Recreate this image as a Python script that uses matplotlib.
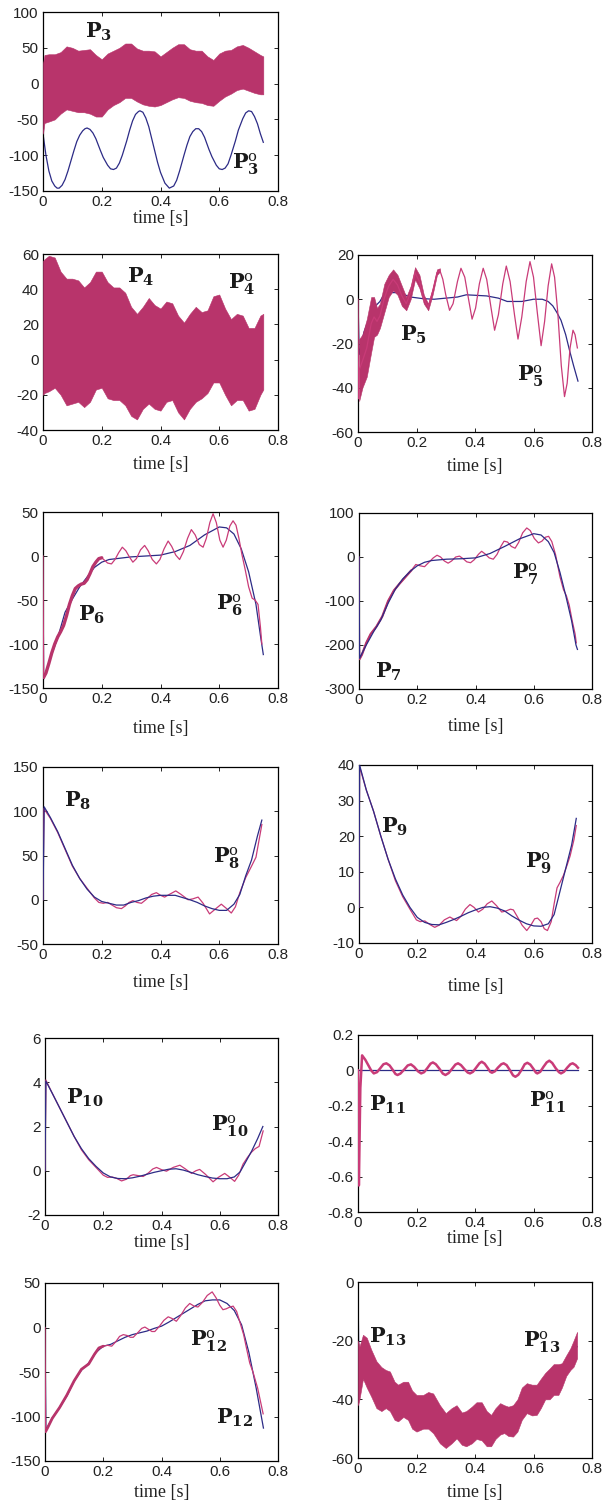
import matplotlib
matplotlib.use("Agg")
import matplotlib.pyplot as plt

plt.rcParams['axes.unicode_minus'] = False
plt.rcParams['mathtext.fontset'] = 'dejavuserif'
plt.rcParams['font.family'] = ['Liberation Sans', 'DejaVu Sans']

BAND = '#B8346B'      # measured power, high-frequency part drawn as a filled band
PINK = '#C93B78'      # measured power, thin trace
BLUE = '#2C2B86'      # reference power P°
TXT = '#1A1A1A'
FIG_W, FIG_H = 604, 1506

XTICKS = [0, 0.2, 0.4, 0.6, 0.8]
XTICK_LABELS = ['0', '0.2', '0.4', '0.6', '0.8']

# ---------------------------------------------------------------- P3 / P4 bands
band_t = [0, 0.005, 0.02, 0.04, 0.06, 0.08, 0.10, 0.12, 0.14, 0.16, 0.18, 0.20, 0.22,
          0.24, 0.26, 0.28, 0.30, 0.32, 0.34, 0.36, 0.38, 0.40, 0.42, 0.44, 0.46, 0.48,
          0.50, 0.52, 0.54, 0.56, 0.58, 0.60, 0.62, 0.64, 0.66, 0.68, 0.70, 0.72, 0.74, 0.75]
p3_hi = [28, 40, 41, 41, 44, 52, 50, 46, 47, 48, 40, 34, 42, 46, 50, 56, 56, 49, 46, 46,
         45, 38, 44, 50, 55, 55, 48, 46, 46, 38, 33, 42, 46, 47, 52, 54, 50, 45, 40, 38]
p3_lo = [-70, -55, -53, -50, -42, -36, -38, -40, -40, -42, -46, -46, -36, -30, -26, -20,
         -20, -25, -29, -31, -32, -30, -26, -22, -19, -20, -24, -26, -27, -30, -31, -24,
         -18, -14, -9, -7, -10, -13, -15, -15]
p3_ref_t = [0, 0.01, 0.02, 0.03, 0.04, 0.048, 0.055, 0.065, 0.075, 0.085, 0.095, 0.105,
            0.115, 0.125, 0.135, 0.143, 0.15, 0.16, 0.17, 0.18, 0.195, 0.205, 0.22, 0.23,
            0.24, 0.25, 0.26, 0.27, 0.285, 0.295, 0.305, 0.315, 0.325, 0.33, 0.34, 0.35,
            0.36, 0.375, 0.39, 0.40, 0.415, 0.43, 0.445, 0.455, 0.465, 0.48, 0.49, 0.50,
            0.51, 0.52, 0.53, 0.54, 0.55, 0.565, 0.575, 0.59, 0.60, 0.61, 0.62, 0.63, 0.64,
            0.655, 0.665, 0.68, 0.69, 0.70, 0.71, 0.72, 0.73, 0.74, 0.75]
p3_ref_y = [-70, -100, -122, -136, -143, -146, -146, -142, -134, -122, -108, -94, -81,
            -72, -66, -63, -62, -64, -69, -77, -93, -103, -114, -119, -120, -118, -111,
            -100, -80, -65, -52, -43, -39, -38, -40, -48, -60, -85, -110, -124, -139, -146,
            -143, -135, -122, -100, -86, -74, -67, -63, -63, -67, -75, -92, -102, -114,
            -119, -120, -118, -112, -100, -80, -65, -49, -41, -38, -39, -46, -56, -70, -82]

p4_hi = [56, 57, 59, 58, 50, 46, 46, 45, 41, 44, 50, 50, 44, 41, 41, 38, 30, 26, 30, 35,
         31, 29, 33, 32, 25, 21, 26, 30, 27, 28, 36, 37, 29, 23, 26, 25, 18, 18, 25, 26]
p4_lo = [-20, -19, -18, -16, -20, -26, -25, -24, -27, -24, -17, -16, -22, -23, -23, -26,
         -32, -34, -28, -25, -28, -29, -24, -23, -30, -34, -28, -24, -22, -19, -13, -13,
         -20, -26, -23, -23, -29, -28, -20, -17]

# ---------------------------------------------------------------- P5
p5_band_t = [0.004, 0.015, 0.03, 0.045, 0.055, 0.065, 0.075, 0.09, 0.105, 0.12, 0.135,
             0.15, 0.165, 0.18, 0.195, 0.21, 0.225, 0.24, 0.255, 0.27, 0.28]
p5_hi = [-18, -16, -9, 1, 1, -4, -2, 7, 11, 13.5, 11, 6, 1, 6, 14.5, 11, 2, -2, 5, 13.5, 14]
p5_lo = [-46, -40, -35, -24, -17, -16, -13, -6, 1, 4, 2, -3, -5, 0, 9, 5, -2, -5, 2, 11, 12.5]
p5_pink_t = [0, 0.002, 0.004, 0.015, 0.03, 0.045, 0.055, 0.065, 0.075, 0.09, 0.105, 0.12,
             0.135, 0.15, 0.165, 0.18, 0.195, 0.21, 0.225, 0.24, 0.255, 0.27, 0.28, 0.29,
             0.30, 0.313, 0.325, 0.34, 0.352, 0.365, 0.378, 0.39, 0.402, 0.415, 0.428, 0.44,
             0.455, 0.467, 0.48, 0.495, 0.507, 0.52, 0.535, 0.547, 0.56, 0.575, 0.588, 0.60,
             0.613, 0.626, 0.638, 0.65, 0.662, 0.672, 0.683, 0.695, 0.706, 0.715, 0.725,
             0.735, 0.742, 0.75]
p5_pink_y = [0, -45, -32, -28, -22, -11, -8, -10, -7.5, 0.5, 6, 9, 6.5, 1.5, -2, 3, 12, 8,
             0, -3.5, 3.5, 12, 13, 9, 2, -5, -2, 8, 14, 10, 0, -9, -4, 7, 14, 9, -4, -14,
             -7, 7, 15, 8, -7, -18, -8, 8, 17, 10, -6, -21, -10, 6, 16, 10, -6, -30, -44,
             -38, -22, -14, -16, -22]
p5_ref_t = [0, 0.004, 0.02, 0.04, 0.06, 0.075, 0.09, 0.11, 0.14, 0.18, 0.22, 0.26, 0.30,
            0.34, 0.37, 0.40, 0.44, 0.48, 0.51, 0.56, 0.60, 0.63, 0.65, 0.666, 0.68, 0.694,
            0.71, 0.723, 0.737, 0.752]
p5_ref_y = [0, -25, -15, -8, -3, -1, 2.5, 3, 3, 1, 0.3, 0, 0.5, 1, 2, 1.8, 1.5, 0.5, -1,
            -1, 0, 0, -1, -3, -6, -9.5, -16, -23, -30, -37]

# ---------------------------------------------------------------- P6
p6_pink_t = [0, 0.002, 0.01, 0.02, 0.03, 0.04, 0.05, 0.06, 0.07, 0.08, 0.09, 0.10, 0.11,
             0.12, 0.13, 0.14, 0.15, 0.16, 0.17, 0.18, 0.19, 0.20, 0.21, 0.22, 0.233, 0.245,
             0.258, 0.27, 0.282, 0.294, 0.306, 0.318, 0.332, 0.346, 0.358, 0.372, 0.386,
             0.398, 0.412, 0.426, 0.438, 0.452, 0.465, 0.478, 0.492, 0.505, 0.518, 0.532,
             0.545, 0.556, 0.568, 0.579, 0.59, 0.602, 0.613, 0.624, 0.636, 0.647, 0.657,
             0.667, 0.677, 0.688, 0.70, 0.712, 0.722, 0.732, 0.74, 0.745]
p6_pink_y = [0, -138, -133, -122, -110, -100, -92, -86, -79, -68, -55, -45, -37, -34, -32,
             -31, -27, -20, -12, -7, -3, -2, -5, -8, -9, -4, 4, 10, 6, -1, -7, -3, 7, 12, 6,
             -4, -9, -4, 8, 17, 11, 1, -4, 5, 20, 30, 24, 13, 10, 20, 38, 48, 38, 18, 10,
             18, 34, 40, 35, 20, 2, -15, -35, -48, -50, -55, -80, -100]
p6_ref_t = [0, 0.002, 0.025, 0.05, 0.075, 0.10, 0.125, 0.15, 0.175, 0.20, 0.225, 0.25,
            0.30, 0.35, 0.40, 0.45, 0.50, 0.55, 0.60, 0.625, 0.65, 0.675, 0.70, 0.725,
            0.74, 0.75]
p6_ref_y = [0, -140, -116, -93, -64, -49, -35, -24, -13, -7, -4, -3, -1, 0, 1, 5, 12, 24,
            33, 32, 25, 8, -18, -55, -90, -112]

# ---------------------------------------------------------------- P7
p7_pink_t = [0, 0.002, 0.01, 0.025, 0.04, 0.06, 0.08, 0.10, 0.12, 0.14, 0.16, 0.18, 0.195,
             0.21, 0.225, 0.24, 0.255, 0.268, 0.28, 0.293, 0.306, 0.318, 0.332, 0.345,
             0.358, 0.37, 0.383, 0.396, 0.41, 0.421, 0.433, 0.447, 0.461, 0.474, 0.487,
             0.498, 0.51, 0.523, 0.536, 0.548, 0.562, 0.576, 0.588, 0.602, 0.616, 0.628,
             0.64, 0.651, 0.662, 0.675, 0.69, 0.702, 0.712, 0.722, 0.732, 0.742, 0.746]
p7_pink_y = [0, -232, -222, -195, -175, -158, -135, -100, -76, -60, -45, -30, -17, -20,
             -22, -12, -2, 4, 0, -9, -14, -9, 0, 2, -4, -11, -13, -6, 6, 13, 7, -2, -5, 6,
             24, 36, 34, 24, 20, 33, 55, 66, 60, 42, 32, 36, 45, 47, 35, 5, -45, -74, -88,
             -110, -145, -175, -195]
p7_ref_t = [0, 0.002, 0.025, 0.05, 0.075, 0.10, 0.125, 0.15, 0.175, 0.20, 0.225, 0.25,
            0.30, 0.35, 0.40, 0.45, 0.50, 0.55, 0.60, 0.625, 0.65, 0.67, 0.69, 0.71, 0.73,
            0.745, 0.75]
p7_ref_y = [0, -230, -200, -170, -143, -105, -73, -50, -33, -20, -12, -8, -5, -4, -2, 8,
            24, 41, 53, 50, 35, 10, -35, -88, -145, -200, -210]

# ---------------------------------------------------------------- P8
p8_pink_t = [0, 0.003, 0.025, 0.05, 0.075, 0.10, 0.125, 0.15, 0.175, 0.19, 0.205, 0.22,
             0.235, 0.25, 0.267, 0.28, 0.293, 0.306, 0.32, 0.335, 0.35, 0.37, 0.386, 0.40,
             0.414, 0.43, 0.452, 0.47, 0.494, 0.51, 0.528, 0.545, 0.567, 0.585, 0.607,
             0.625, 0.641, 0.655, 0.67, 0.69, 0.71, 0.725, 0.745]
p8_pink_y = [0, 103, 92, 76, 57, 38, 24, 13, 2, -3, -4, -3, -6, -9, -10, -7, -3, -1, -3,
             -4, 0, 6, 8, 5, 3, 6, 10, 6, 0, 1, 3, -4, -16, -11, -5, -10, -15, -8, 8, 25,
             38, 48, 85]
p8_ref_t = [0, 0.004, 0.025, 0.05, 0.075, 0.10, 0.125, 0.15, 0.175, 0.20, 0.225, 0.25,
            0.275, 0.30, 0.325, 0.35, 0.375, 0.40, 0.45, 0.50, 0.525, 0.55, 0.575, 0.60,
            0.625, 0.65, 0.67, 0.69, 0.71, 0.73, 0.745]
p8_ref_y = [0, 105, 93, 77, 58, 39, 24, 12, 3, -2, -4, -6, -6, -3, -1, 2, 4, 5, 5, 0, -3,
            -7, -10, -12, -12, -5, 6, 27, 45, 72, 90]

# ---------------------------------------------------------------- P9
p9_pink_t = [0, 0.002, 0.025, 0.05, 0.075, 0.10, 0.125, 0.15, 0.175, 0.197, 0.21, 0.226,
             0.243, 0.26, 0.275, 0.293, 0.312, 0.323, 0.335, 0.35, 0.365, 0.381, 0.395,
             0.41, 0.425, 0.44, 0.456, 0.472, 0.49, 0.505, 0.52, 0.53, 0.545, 0.56, 0.576,
             0.59, 0.603, 0.613, 0.625, 0.636, 0.647, 0.66, 0.67, 0.68, 0.69, 0.702, 0.715,
             0.725, 0.738, 0.746]
p9_pink_y = [0, 39.5, 33, 27, 20, 13.5, 7.5, 3, -0.5, -3.5, -4, -3.8, -4.8, -5.6, -5,
             -3.5, -2.7, -3.2, -3.7, -2.5, -0.5, 0.8, 0, -1.3, -0.5, 1, 1.8, 0.5, -1.3, -1,
             -0.5, -0.7, -2.8, -5, -6.5, -5, -3.2, -3, -4, -6, -6.5, -4, 1, 5.5, 7, 9, 12,
             14.5, 19, 23]
p9_ref_t = [0, 0.002, 0.025, 0.05, 0.075, 0.10, 0.125, 0.15, 0.175, 0.20, 0.225, 0.25,
            0.275, 0.30, 0.325, 0.35, 0.375, 0.40, 0.425, 0.45, 0.475, 0.50, 0.525, 0.55,
            0.575, 0.60, 0.625, 0.65, 0.67, 0.69, 0.71, 0.73, 0.746]
p9_ref_y = [0, 40, 33, 27, 20, 13.5, 8, 3.5, 0, -2.8, -4.2, -4.8, -4.9, -4.2, -3.4, -2.5,
            -1.5, -0.7, 0, 0.2, -0.2, -1, -2.4, -3.6, -4.6, -5.2, -5.3, -4.6, -2, 4.5, 11,
            17.5, 25]

# ---------------------------------------------------------------- P10
p10_pink_t = [0, 0.003, 0.025, 0.05, 0.075, 0.10, 0.125, 0.15, 0.175, 0.20, 0.215, 0.23,
              0.247, 0.263, 0.28, 0.293, 0.303, 0.32, 0.337, 0.355, 0.37, 0.383, 0.40,
              0.417, 0.44, 0.463, 0.48, 0.503, 0.518, 0.531, 0.55, 0.577, 0.595, 0.617,
              0.635, 0.651, 0.665, 0.68, 0.695, 0.709, 0.722, 0.735, 0.749]
p10_pink_y = [0, 4.1, 3.5, 2.85, 2.2, 1.55, 0.95, 0.5, 0.15, -0.2, -0.3, -0.28, -0.35,
              -0.46, -0.38, -0.22, -0.18, -0.22, -0.26, -0.1, 0.08, 0.15, 0.05, -0.02, 0.15,
              0.25, 0.1, -0.12, 0, 0.06, -0.15, -0.5, -0.3, -0.12, -0.3, -0.48, -0.2, 0.3,
              0.6, 0.84, 1.0, 1.1, 1.8]
p10_ref_t = [0, 0.003, 0.025, 0.05, 0.075, 0.10, 0.125, 0.15, 0.175, 0.20, 0.225, 0.25,
             0.275, 0.30, 0.325, 0.35, 0.375, 0.40, 0.425, 0.45, 0.475, 0.50, 0.525, 0.55,
             0.575, 0.60, 0.625, 0.65, 0.67, 0.69, 0.71, 0.73, 0.748]
p10_ref_y = [0, 4.05, 3.5, 2.85, 2.2, 1.55, 1.0, 0.55, 0.2, -0.1, -0.28, -0.35, -0.36,
             -0.32, -0.25, -0.16, -0.07, 0, 0.07, 0.09, 0.03, -0.07, -0.18, -0.26, -0.33,
             -0.36, -0.36, -0.28, -0.05, 0.42, 0.9, 1.45, 2.0]

# ---------------------------------------------------------------- P11
p11_pink_t = [0, 0.003, 0.008, 0.014, 0.025, 0.035, 0.045, 0.054, 0.065, 0.076, 0.087,
              0.097, 0.108, 0.118, 0.128, 0.135, 0.145, 0.158, 0.17, 0.181, 0.192, 0.205,
              0.216, 0.226, 0.238, 0.248, 0.256, 0.266, 0.278, 0.29, 0.299, 0.31, 0.322,
              0.333, 0.342, 0.352, 0.365, 0.375, 0.383, 0.393, 0.405, 0.415, 0.423, 0.433,
              0.445, 0.452, 0.458, 0.468, 0.478, 0.49, 0.498, 0.508, 0.52, 0.53, 0.538,
              0.548, 0.56, 0.57, 0.579, 0.589, 0.60, 0.608, 0.613, 0.623, 0.634, 0.645,
              0.654, 0.664, 0.676, 0.687, 0.694, 0.704, 0.715, 0.726, 0.734, 0.744, 0.752]
p11_pink_y = [0, -0.65, -0.1, 0.085, 0.06, 0.03, 0.0, -0.017, -0.01, 0.012, 0.035, 0.04,
              0.028, 0.005, -0.02, -0.026, -0.018, 0.005, 0.028, 0.034, 0.02, -0.005,
              -0.017, -0.01, 0.015, 0.038, 0.045, 0.035, 0.01, -0.018, -0.026, -0.015,
              0.01, 0.033, 0.04, 0.03, 0.005, -0.012, -0.017, -0.008, 0.018, 0.04, 0.049,
              0.038, 0.01, -0.008, -0.013, -0.005, 0.015, 0.035, 0.04, 0.03, 0.0, -0.028,
              -0.036, -0.025, 0.005, 0.035, 0.043, 0.033, 0.008, -0.012, -0.017, -0.008,
              0.02, 0.045, 0.055, 0.042, 0.012, -0.01, -0.017, -0.008, 0.015, 0.035, 0.04,
              0.03, 0.015]
p11_ref_t = [0, 0.752]
p11_ref_y = [0, 0]

# ---------------------------------------------------------------- P12
p12_pink_t = [0, 0.002, 0.01, 0.025, 0.05, 0.075, 0.10, 0.125, 0.15, 0.17, 0.185, 0.20,
              0.215, 0.229, 0.243, 0.256, 0.269, 0.282, 0.293, 0.303, 0.318, 0.332, 0.343,
              0.355, 0.367, 0.377, 0.392, 0.408, 0.423, 0.437, 0.451, 0.465, 0.482, 0.497,
              0.512, 0.525, 0.54, 0.557, 0.574, 0.588, 0.60, 0.611, 0.622, 0.635, 0.646,
              0.658, 0.67, 0.682, 0.691, 0.703, 0.714, 0.73, 0.749]
p12_pink_y = [0, -117, -112, -102, -90, -76, -60, -47, -41, -30, -23, -21, -20, -21, -16,
              -10, -8, -9, -11, -11, -6, -1, 0.5, -2, -4.5, -4.5, 1, 8, 12, 10, 7, 13, 22,
              27, 24, 23, 28, 36, 40, 33, 25, 20, 21, 23, 24, 18, 5, -8, -22, -40, -50,
              -68, -97]
p12_ref_t = [0, 0.003, 0.025, 0.05, 0.075, 0.10, 0.125, 0.15, 0.175, 0.20, 0.225, 0.25,
             0.275, 0.30, 0.325, 0.35, 0.375, 0.40, 0.425, 0.45, 0.475, 0.50, 0.525, 0.55,
             0.575, 0.60, 0.625, 0.65, 0.675, 0.70, 0.725, 0.75]
p12_ref_y = [0, -115, -102, -90, -77, -60, -48, -40, -28, -21, -19, -15, -11, -8, -6, -4,
             -1, 1.5, 6, 11, 16, 21, 26, 30, 31, 31, 27, 19, 3, -28, -68, -113]

# ---------------------------------------------------------------- P13
p13_t = [0, 0.005, 0.017, 0.03, 0.045, 0.063, 0.08, 0.095, 0.109, 0.125, 0.137, 0.155,
         0.171, 0.185, 0.2, 0.223, 0.24, 0.257, 0.28, 0.3, 0.32, 0.337, 0.355, 0.37, 0.389,
         0.405, 0.423, 0.44, 0.455, 0.47, 0.486, 0.5, 0.514, 0.53, 0.545, 0.56, 0.577,
         0.595, 0.611, 0.625, 0.64, 0.655, 0.669, 0.685, 0.697, 0.712, 0.726, 0.737, 0.749]
p13_hi = [-20, -22, -18, -19, -23, -27, -29, -30, -30.5, -34, -35, -34, -34, -37, -38.5,
          -38.5, -37.5, -38, -42, -44.7, -43, -42, -44.5, -44, -42.5, -41, -41, -44, -45.3,
          -43, -41.3, -42, -42.5, -42, -40, -36, -34.5, -35, -35, -33, -31, -29.5, -28,
          -28, -27.7, -25, -22.6, -20, -17]
p13_lo = [-42, -40, -33, -36, -39, -43, -44, -43, -44, -47, -47.5, -46, -47, -50, -51,
          -50, -50, -51.5, -55, -56.6, -55, -53.3, -55.5, -56, -55, -53.5, -54, -56, -56,
          -53.5, -52, -51.5, -52.5, -52.7, -51, -47, -44.7, -45.5, -45.3, -43, -40, -40,
          -38.5, -38.5, -36, -32, -30, -28.9, -26]
p13_ref_t = [0, 0.003, 0.05, 0.15, 0.3, 0.45, 0.6, 0.7, 0.749]
p13_ref_y = [0, -30, -35, -42, -50, -49, -40, -32, -22]


def panel(fig, box, ylim, yticks, xlab_off):
    """box = (left, top, width, height) in pixels; xlab_off = label centre below axes."""
    l, t, w, h = box
    ax = fig.add_axes([l / FIG_W, 1 - (t + h) / FIG_H, w / FIG_W, h / FIG_H])
    ax.set_xlim(0, 0.8)
    ax.set_ylim(*ylim)
    ax.set_xticks(XTICKS, labels=XTICK_LABELS)
    ax.set_yticks(yticks, labels=[f'{v:g}' for v in yticks])
    ax.tick_params(direction='in', length=3, width=0.6, top=True, right=True,
                   labelsize=11, pad=3, labelcolor='#222222')
    for sp in ax.spines.values():
        sp.set_linewidth(0.9)
    ax.set_xlabel('time [s]', fontfamily='Liberation Serif', fontsize=13,
                  color='#222222', va='center')
    ax.xaxis.set_label_coords(0.5, -xlab_off / h)
    return ax


def tag(ax, x, y, n, ref=False):
    s = r'$\mathbf{P}_{\mathbf{%s}}^{\mathrm{o}}$' % n if ref else r'$\mathbf{P}_{\mathbf{%s}}$' % n
    ax.text(x, y, s, fontsize=15, ha='center', va='center', color=TXT, zorder=10)


def trace(ax, t, y, thick_until=None, lw=0.9, thick_lw=2.4):
    ax.plot(t, y, color=PINK, lw=lw, zorder=3)
    if thick_until is not None:
        k = sum(1 for v in t if v <= thick_until)
        ax.plot(t[1:k], y[1:k], color=BAND, lw=thick_lw, zorder=3,
                solid_capstyle='round')


fig = plt.figure(figsize=(FIG_W / 100, FIG_H / 100), dpi=100)

# P3
ax = panel(fig, (43, 12, 235, 179), (-150, 100), [-150, -100, -50, 0, 50, 100], 27)
ax.plot(p3_ref_t, p3_ref_y, color=BLUE, lw=0.9, zorder=2)
ax.fill_between(band_t, p3_lo, p3_hi, color=BAND, lw=0.4, zorder=3)
tag(ax, 0.19, 72, '3')
tag(ax, 0.69, -112, '3', ref=True)

# P4
ax = panel(fig, (43, 254, 235, 176), (-40, 60), [-40, -20, 0, 20, 40, 60], 35)
ax.fill_between(band_t, p4_lo, p4_hi, color=BAND, lw=0.4, zorder=3)
tag(ax, 0.333, 47, '4')
tag(ax, 0.675, 43, '4', ref=True)

# P5
ax = panel(fig, (358, 255, 234, 177), (-60, 20), [-60, -40, -20, 0, 20], 35)
ax.plot(p5_ref_t, p5_ref_y, color=BLUE, lw=0.9, zorder=2)
ax.fill_between(p5_band_t, p5_lo, p5_hi, color=BAND, lw=0.4, zorder=3)
trace(ax, p5_pink_t, p5_pink_y)
tag(ax, 0.19, -16, '5')
tag(ax, 0.59, -35, '5', ref=True)

# P6
ax = panel(fig, (43, 512, 235, 176), (-150, 50), [-150, -100, -50, 0, 50], 40)
ax.plot(p6_ref_t, p6_ref_y, color=BLUE, lw=0.9, zorder=2)
trace(ax, p6_pink_t, p6_pink_y, thick_until=0.2)
tag(ax, 0.165, -67, '6')
tag(ax, 0.635, -56, '6', ref=True)

# P7
ax = panel(fig, (359, 513, 233, 176), (-300, 100), [-300, -200, -100, 0, 100], 38)
ax.plot(p7_ref_t, p7_ref_y, color=BLUE, lw=0.9, zorder=4)
trace(ax, p7_pink_t, p7_pink_y, thick_until=0.18, thick_lw=1.6)
tag(ax, 0.10, -260, '7')
tag(ax, 0.57, -40, '7', ref=True)

# P8
ax = panel(fig, (43, 767, 235, 177), (-50, 150), [-50, 0, 50, 100, 150], 38)
trace(ax, p8_pink_t, p8_pink_y)
ax.plot(p8_ref_t, p8_ref_y, color=BLUE, lw=0.9, zorder=4)
tag(ax, 0.119, 112, '8')
tag(ax, 0.624, 47, '8', ref=True)

# P9
ax = panel(fig, (359, 765, 233, 178), (-10, 40), [-10, 0, 10, 20, 30, 40], 44)
trace(ax, p9_pink_t, p9_pink_y)
ax.plot(p9_ref_t, p9_ref_y, color=BLUE, lw=0.9, zorder=4)
tag(ax, 0.123, 22.6, '9')
tag(ax, 0.616, 12.3, '9', ref=True)

# P10
ax = panel(fig, (45, 1038, 233, 177), (-2, 6), [-2, 0, 2, 4, 6], 28)
trace(ax, p10_pink_t, p10_pink_y)
ax.plot(p10_ref_t, p10_ref_y, color=BLUE, lw=0.9, zorder=4)
tag(ax, 0.137, 3.3, '10')
tag(ax, 0.634, 2.0, '10', ref=True)

# P11
ax = panel(fig, (358, 1035, 234, 177), (-0.8, 0.2), [-0.8, -0.6, -0.4, -0.2, 0, 0.2], 26)
ax.plot(p11_ref_t, p11_ref_y, color=BLUE, lw=0.9, zorder=2)
trace(ax, p11_pink_t, p11_pink_y, lw=1.8)
tag(ax, 0.10, -0.196, '11')
tag(ax, 0.648, -0.18, '11', ref=True)

# P12
ax = panel(fig, (45, 1283, 233, 178), (-150, 50), [-150, -100, -50, 0, 50], 32)
ax.plot(p12_ref_t, p12_ref_y, color=BLUE, lw=0.9, zorder=2)
trace(ax, p12_pink_t, p12_pink_y, thick_until=0.2, thick_lw=2.0)
tag(ax, 0.56, -16, '12', ref=True)
tag(ax, 0.651, -102, '12')

# P13
ax = panel(fig, (358, 1282, 234, 176), (-60, 0), [-60, -40, -20, 0], 34)
ax.plot(p13_ref_t, p13_ref_y, color=BLUE, lw=0.9, zorder=2)
ax.fill_between(p13_t, p13_lo, p13_hi, color=BAND, lw=0.4, zorder=3)
tag(ax, 0.103, -18.7, '13')
tag(ax, 0.629, -20.4, '13', ref=True)

fig.savefig('out.png', dpi=100, facecolor='white')
